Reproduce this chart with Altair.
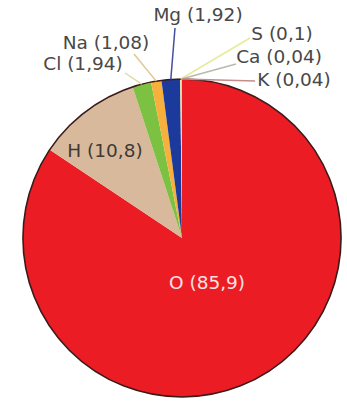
import math
import altair as alt
import pandas as pd

# ---- data ----
elements = ["O", "H", "Cl", "Na", "Mg", "S", "Ca", "K"]
values = [85.9, 10.8, 1.94, 1.08, 1.92, 0.1, 0.04, 0.04]
labels = ["O (85,9)", "H (10,8)", "Cl (1,94)", "Na (1,08)", "Mg (1,92)",
          "S (0,1)", "Ca (0,04)", "K (0,04)"]

# ---- style / layout ----
slice_colors = ["#ec1c24", "#d8b99b", "#7cc142", "#f6b03b", "#1b3a9c",
                "#f2f29a", "#cfcfc4", "#d49a8e"]
line_colors = [None, None, "#d9de9e", "#e2c68e", "#45509e",
               "#e6eb98", "#b4bcad", "#c58c88"]
text_colors = ["#fde2e2", "#3e3a36", "#484848", "#484848", "#484848",
               "#484848", "#484848", "#484848"]
label_x = [207, 105, 83, 106, 198, 282, 279, 294]
label_y = [283, 151, 64, 43, 15, 34, 57, 80]
line_end_x = [None, None, 125, 134, 175, 250, 236, 255]
line_end_y = [None, None, 73, 54, 28, 38, 64, 81]

CX, CY, R = 182, 238, 159
W, H = 347, 405

order = list(range(len(elements)))
df = pd.DataFrame({"element": elements, "value": values, "order": order})

# leader line start points computed from the slice mid-angles
total = sum(values)
cum = 0.0
lines = []
for i, v in enumerate(values):
    mid = (cum + v / 2) / total * 2 * math.pi
    cum += v
    if line_end_x[i] is None:
        continue
    lines.append({
        "element": elements[i],
        "x": CX + R * math.sin(mid),
        "y": CY - R * math.cos(mid),
        "x2": line_end_x[i],
        "y2": line_end_y[i],
        "c": line_colors[i],
    })
lines_df = pd.DataFrame(lines)

text_df = pd.DataFrame({"label": labels, "x": label_x, "y": label_y,
                        "c": text_colors})

pie = alt.Chart(df).mark_arc(radius=R, strokeWidth=0).encode(
    theta=alt.Theta("value:Q", stack=True),
    order=alt.Order("order:Q"),
    color=alt.Color("element:N",
                    scale=alt.Scale(domain=elements, range=slice_colors),
                    legend=None),
    x=alt.value(CX),
    y=alt.value(CY),
)

outline = alt.Chart(pd.DataFrame({"a": [0]})).mark_arc(
    radius=R, fill=None, stroke="#3a1a1a", strokeWidth=1.6
).encode(
    theta=alt.value(0),
    theta2=alt.value(2 * math.pi),
    x=alt.value(CX),
    y=alt.value(CY),
)

leaders = alt.Chart(lines_df).mark_rule(strokeWidth=1.5).encode(
    x=alt.X("x:Q", scale=None),
    y=alt.Y("y:Q", scale=None),
    x2="x2:Q",
    y2="y2:Q",
    color=alt.Color("c:N", scale=None),
)

texts = alt.Chart(text_df).mark_text(
    font="DejaVu Sans", fontSize=18.5, align="center", baseline="middle"
).encode(
    x=alt.X("x:Q", scale=None),
    y=alt.Y("y:Q", scale=None),
    text="label:N",
    color=alt.Color("c:N", scale=None),
)

chart = alt.layer(pie, outline, leaders, texts).properties(
    width=W, height=H, padding=0,
    autosize=alt.AutoSizeParams(type="none"),
    background="white",
).configure_view(stroke=None)

chart.save("out.html", embed_options={"renderer": "svg", "actions": False})
